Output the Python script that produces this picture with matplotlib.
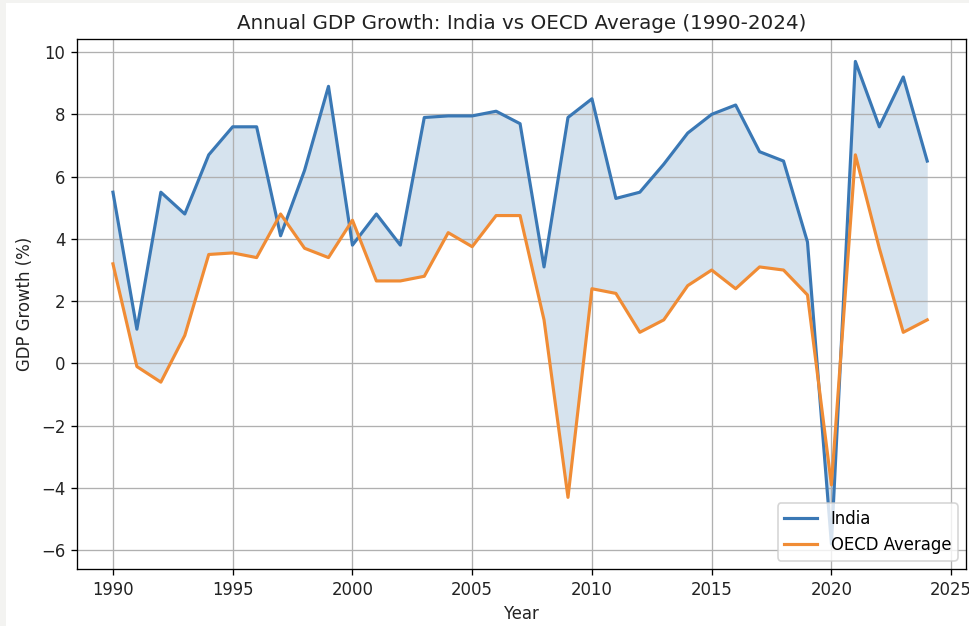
import matplotlib
matplotlib.use("Agg")
import matplotlib.pyplot as plt
from matplotlib.patches import Rectangle

years = list(range(1990, 2025))
india = [5.5, 1.1, 5.5, 4.8, 6.7, 7.6, 7.6, 4.1, 6.2, 8.9,
         3.8, 4.8, 3.8, 7.9, 7.95, 7.95, 8.1, 7.7, 3.1, 7.9,
         8.5, 5.3, 5.5, 6.4, 7.4, 8.0, 8.3, 6.8, 6.5, 3.9,
         -5.8, 9.7, 7.6, 9.2, 6.5]
oecd = [3.2, -0.1, -0.6, 0.9, 3.5, 3.55, 3.4, 4.8, 3.7, 3.4,
        4.6, 2.65, 2.65, 2.8, 4.2, 3.75, 4.75, 4.75, 1.4, -4.3,
        2.4, 2.25, 1.0, 1.4, 2.5, 3.0, 2.4, 3.1, 3.0, 2.2,
        -3.9, 6.7, 3.7, 1.0, 1.4]

DPI = 119
fig = plt.figure(figsize=(970 / DPI, 626 / DPI), dpi=DPI)
fig.patch.set_facecolor('#f3f3f1')
fig.patches.append(Rectangle((6 / 970, 0), 1, 1 - 3 / 626, transform=fig.transFigure,
                             facecolor='white', edgecolor='none', zorder=-10))
ax = fig.add_axes([0.0794, 0.0911, 0.9165, 0.8466])
ax.plot(years, india, color='#3a78b5', lw=1.9, label='India')
ax.plot(years, oecd, color='#f08c35', lw=1.9, label='OECD Average')
ax.fill_between(years, india, oecd, color='#4682b4', alpha=0.22, lw=0)
ax.set_xlim(1988.5, 2025.62)
ax.set_ylim(-6.6, 10.42)
ax.set_title('Annual GDP Growth: India vs OECD Average (1990-2024)', fontsize=12, color='#222222')
ax.set_xlabel('Year', color='#222222')
ax.set_ylabel('GDP Growth (%)', color='#222222')
ax.tick_params(labelcolor='#222222')
ax.grid(True, color='#b0b0b0', lw=0.8)
ax.legend(loc='lower right')
fig.savefig('out.png', dpi=DPI, facecolor=fig.get_facecolor())
